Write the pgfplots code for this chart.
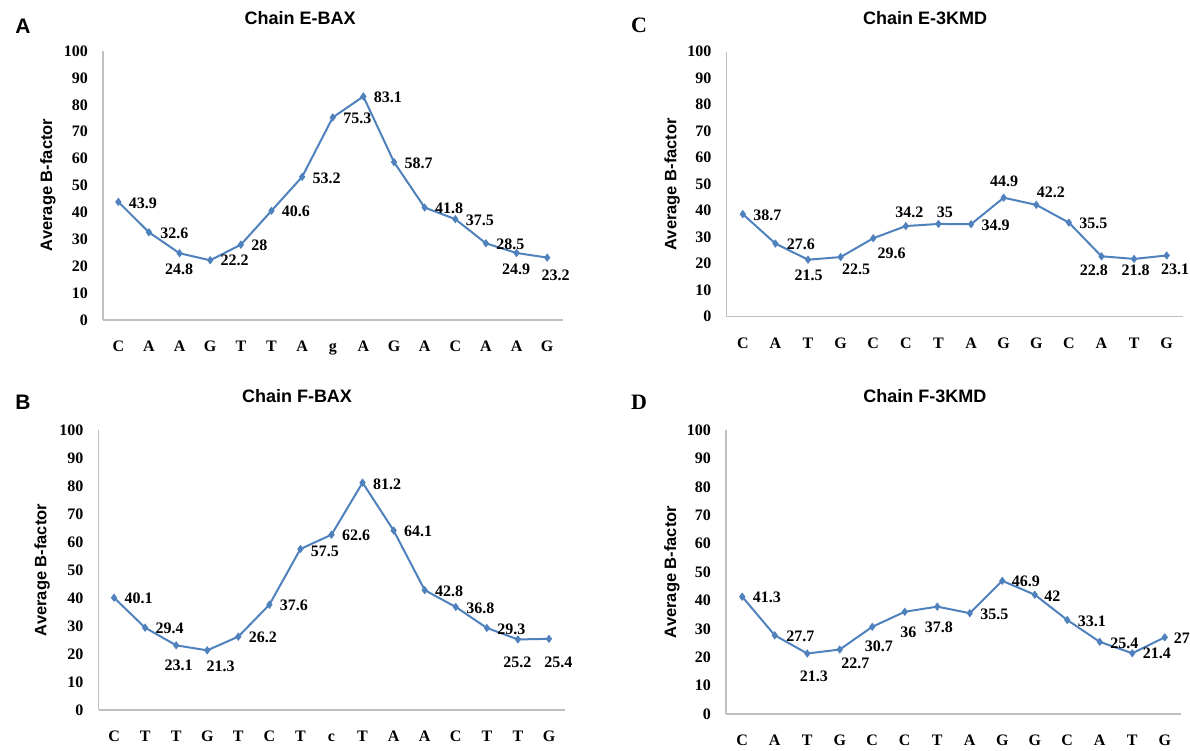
\documentclass[border=0pt]{standalone}
\usepackage{fontspec}
\setmainfont{Liberation Serif}
\newfontfamily\arial{Liberation Sans}
\usepackage{pgfplots}
\pgfplotsset{compat=1.18}
\usepackage{pgfplotstable}
\definecolor{lblue}{RGB}{79,129,189}
\definecolor{axgray}{RGB}{191,191,191}

% columns: x, y (value), lx/ly = offset of label's left-middle point from the data point (pt)
\pgfplotstableread{
x y lx ly
0 43.9 10 -1
1 32.6 11 -1
2 24.8 -15 -16
3 22.2 10 0
4 28 10 -1
5 40.6 10 -1
6 53.2 10 -1
7 75.3 10 -1
8 83.1 10 -1
9 58.7 10 -1
10 41.8 10 -1
11 37.5 10 -1
12 28.5 10 -1
13 24.9 -15 -16
14 23.2 -6 -17.4
}\dataA

\pgfplotstableread{
x y lx ly
0 40.1 10 -1
1 29.4 10 -1
2 23.1 -12 -20
3 21.3 -1 -15.7
4 26.2 10 -1
5 37.6 10 -1
6 57.5 10 -2
7 62.6 10 -1
8 81.2 10 -2
9 64.1 10 -1
10 42.8 10 -1
11 36.8 10 -1
12 29.3 10 -1
13 25.2 -15 -23
14 25.4 -5 -23.4
}\dataB

\pgfplotstableread{
x y lx ly
0 38.7 10 -1
1 27.6 11 -1
2 21.5 -14 -16
3 22.5 1 -12.4
4 29.6 4 -15.4
5 34.2 -11 14
6 35 -2 12
7 34.9 10 -1
8 44.9 -14 16
9 42.2 0 12.4
10 35.5 10 -1
11 22.8 -22 -14.4
12 21.8 -13 -11.7
13 23.1 -6 -14
}\dataC

\pgfplotstableread{
x y lx ly
0 41.3 10 -1
1 27.7 11 -1
2 21.3 -8 -22.4
3 22.7 1 -13.7
4 30.7 -8 -19
5 36 -5 -21
6 37.8 -13 -20.4
7 35.5 10 -1
8 46.9 9 -1
9 42 9 -1
10 33.1 10 -1
11 25.4 10 -1
12 21.4 10 0
13 27 8.5 -1
}\dataD

\pgfplotsset{
  bfac/.style={
    scale only axis,
    anchor=south west,
    axis lines=left,
    axis line style={-, draw=axgray, line width=1.2pt},
    ymin=0, ymax=100, ytick={0,10,...,100},
    enlargelimits=false,
    major tick length=0pt,
    tick style={draw=none},
    /pgf/number format/assume math mode=true,
    ticklabel style={font=\fontsize{16}{19}\selectfont\bfseries, inner sep=0pt},
    yticklabel style={anchor=east, xshift=-15pt},
    xticklabel style={anchor=base, yshift=-31.4pt},
    clip=false,
    title style={font=\arial\fontsize{18}{21}\selectfont\bfseries, anchor=center},
    ylabel style={font=\arial\fontsize{16.5}{19}\selectfont\bfseries, anchor=center},
    ylabel={Average B-factor},
  },
  bline/.style={
    lblue, line width=2pt, mark=diamond*, mark size=3.4pt, mark options={solid, fill=lblue, line width=1pt},
    point meta=explicit symbolic,
    nodes near coords={\pgfplotspointmeta},
    nodes near coords style={font=\fontsize{16}{19}\selectfont\bfseries, text=black, inner sep=0pt, anchor=west, xshift=\lblx pt, yshift=\lbly pt},
  },
}

\begin{document}
\begin{tikzpicture}[x=1pt, y=1pt]
\path[use as bounding box] (0pt,0pt) rectangle (1190pt,751pt);

% Panel A
\begin{axis}[bfac, at={(103pt,431pt)}, width=459.5pt, height=269pt,
  xmin=-0.5, xmax=14.5, xtick={0,...,14},
  xticklabels={C,A,A,G,T,T,A,g,A,G,A,C,A,A,G},
  title={Chain E-BAX},
  title style={at={(axis description cs:0.429,1.100)}},
  ylabel style={at={(axis description cs:-0.1197,0.502)}}]
\addplot[bline,
  visualization depends on={\thisrow{lx}\as\lblx},
  visualization depends on={\thisrow{ly}\as\lbly}]
  table[x=x, y=y, meta=y] {\dataA};
\end{axis}

% Panel B
\begin{axis}[bfac, at={(98.5pt,41pt)}, width=466pt, height=280pt,
  xmin=-0.5, xmax=14.5, xtick={0,...,14},
  xticklabels={C,T,T,G,T,C,T,c,T,A,A,C,T,T,G},
  title={Chain F-BAX},
  title style={at={(axis description cs:0.426,1.100)}},
  ylabel style={at={(axis description cs:-0.121,0.5)}}]
\addplot[bline,
  visualization depends on={\thisrow{lx}\as\lblx},
  visualization depends on={\thisrow{ly}\as\lbly}]
  table[x=x, y=y, meta=y] {\dataB};
\end{axis}

% Panel C
\begin{axis}[bfac, at={(726.5pt,434.3pt)}, width=456.5pt, height=265pt,
  xmin=-0.5, xmax=13.5, xtick={0,...,13},
  xticklabels={C,A,T,G,C,C,T,A,G,G,C,A,T,G},
  title={Chain E-3KMD},
  title style={at={(axis description cs:0.435,1.105)}},
  ylabel style={at={(axis description cs:-0.119,0.5)}}]
\addplot[bline,
  visualization depends on={\thisrow{lx}\as\lblx},
  visualization depends on={\thisrow{ly}\as\lbly}]
  table[x=x, y=y, meta=y] {\dataC};
\end{axis}

% Panel D
\begin{axis}[bfac, at={(726pt,37pt)}, width=455pt, height=284pt,
  xmin=-0.5, xmax=13.5, xtick={0,...,13},
  xticklabels={C,A,T,G,C,C,T,A,G,G,C,A,T,G},
  title={Chain F-3KMD},
  title style={at={(axis description cs:0.437,1.099)}},
  ylabel style={at={(axis description cs:-0.119,0.5)}}]
\addplot[bline,
  visualization depends on={\thisrow{lx}\as\lblx},
  visualization depends on={\thisrow{ly}\as\lbly}]
  table[x=x, y=y, meta=y] {\dataD};
\end{axis}

% Panel letters
\node[font=\arial\fontsize{21}{24}\selectfont\bfseries] at (23pt,725pt) {A};
\node[font=\arial\fontsize{21}{24}\selectfont\bfseries] at (23pt,349pt) {B};
\node[font=\fontsize{22}{25}\selectfont\bfseries] at (639pt,726pt) {C};
\node[font=\fontsize{22}{25}\selectfont\bfseries] at (639pt,349pt) {D};
\end{tikzpicture}
\end{document}
